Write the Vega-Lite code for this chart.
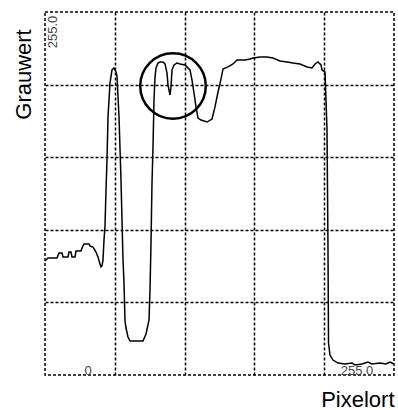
{
  "$schema": "https://vega.github.io/schema/vega-lite/v6.json",
  "width": 349,
  "height": 363,
  "autosize": {"type": "none"},
  "padding": {"left": 45, "top": 12, "right": 4, "bottom": 35},
  "background": "white",
  "config": {
    "font": "Liberation Sans",
    "view": {"stroke": "black", "strokeDash": [3, 2], "strokeWidth": 1.5},
    "axis": {"labels": false, "ticks": false, "domain": false, "grid": true, "gridColor": "black", "gridOpacity": 1, "gridWidth": 1.5, "gridDash": [3, 2], "titleFont": "Liberation Sans", "titleFontSize": 22, "titleFontWeight": "normal", "titleColor": "black"}
  },
  "datasets": {
    "curve": [
      {"pos": 0, "grey": 80.1}, {"pos": 3, "grey": 82.2}, {"pos": 12, "grey": 82.2}, {"pos": 14, "grey": 85.7},
      {"pos": 17, "grey": 85.7}, {"pos": 18, "grey": 82.9}, {"pos": 23, "grey": 82.9}, {"pos": 24, "grey": 86.4},
      {"pos": 26, "grey": 86.4}, {"pos": 27, "grey": 82.9}, {"pos": 30, "grey": 82.9}, {"pos": 31, "grey": 87.1},
      {"pos": 36, "grey": 87.1}, {"pos": 37, "grey": 89.2}, {"pos": 39, "grey": 92.0}, {"pos": 44, "grey": 92.0},
      {"pos": 45, "grey": 90.6}, {"pos": 48, "grey": 89.9}, {"pos": 51, "grey": 86.4}, {"pos": 53, "grey": 82.9},
      {"pos": 55, "grey": 78.0}, {"pos": 56, "grey": 75.9}, {"pos": 57, "grey": 76.6}, {"pos": 58, "grey": 80.8},
      {"pos": 59, "grey": 94.8}, {"pos": 60, "grey": 104.7}, {"pos": 61, "grey": 130.0}, {"pos": 62, "grey": 151.0},
      {"pos": 63, "grey": 181.2}, {"pos": 65, "grey": 205.1}, {"pos": 67, "grey": 214.3}, {"pos": 69, "grey": 215.7},
      {"pos": 71, "grey": 212.9}, {"pos": 72, "grey": 210.0}, {"pos": 74, "grey": 181.2}, {"pos": 76, "grey": 137.0},
      {"pos": 77, "grey": 108.9}, {"pos": 78, "grey": 80.8}, {"pos": 79, "grey": 64.6}, {"pos": 80, "grey": 37.9},
      {"pos": 81, "grey": 33.0}, {"pos": 83, "grey": 26.7}, {"pos": 85, "grey": 23.9}, {"pos": 98, "grey": 23.9},
      {"pos": 101, "grey": 28.8}, {"pos": 104, "grey": 38.6}, {"pos": 105, "grey": 59.7}, {"pos": 106, "grey": 92.7},
      {"pos": 107, "grey": 134.9}, {"pos": 108, "grey": 160.2}, {"pos": 109, "grey": 193.2}, {"pos": 110, "grey": 209.3},
      {"pos": 111, "grey": 215.7}, {"pos": 113, "grey": 219.2}, {"pos": 115, "grey": 219.9}, {"pos": 118, "grey": 219.9},
      {"pos": 120, "grey": 218.5}, {"pos": 122, "grey": 212.2}, {"pos": 123, "grey": 203.7}, {"pos": 125, "grey": 196.7},
      {"pos": 126, "grey": 202.3}, {"pos": 127, "grey": 214.3}, {"pos": 129, "grey": 217.8}, {"pos": 132, "grey": 219.2},
      {"pos": 135, "grey": 218.5}, {"pos": 140, "grey": 217.8}, {"pos": 145, "grey": 214.3}, {"pos": 147, "grey": 207.2},
      {"pos": 149, "grey": 198.1}, {"pos": 151, "grey": 188.3}, {"pos": 153, "grey": 180.5}, {"pos": 156, "grey": 179.1},
      {"pos": 162, "grey": 177.7}, {"pos": 167, "grey": 179.8}, {"pos": 170, "grey": 188.3}, {"pos": 173, "grey": 198.8},
      {"pos": 176, "grey": 207.9}, {"pos": 178, "grey": 215.0}, {"pos": 183, "grey": 216.4}, {"pos": 188, "grey": 218.5},
      {"pos": 192, "grey": 221.3}, {"pos": 200, "grey": 221.3}, {"pos": 205, "grey": 222.0}, {"pos": 208, "grey": 222.7},
      {"pos": 215, "grey": 223.4}, {"pos": 222, "grey": 223.4}, {"pos": 228, "grey": 222.7}, {"pos": 235, "grey": 220.6},
      {"pos": 242, "grey": 219.9}, {"pos": 248, "grey": 219.2}, {"pos": 255, "grey": 218.5}, {"pos": 262, "grey": 216.4},
      {"pos": 267, "grey": 215.7}, {"pos": 270, "grey": 218.5}, {"pos": 273, "grey": 219.9}, {"pos": 276, "grey": 217.8},
      {"pos": 277, "grey": 214.3}, {"pos": 280, "grey": 212.9}, {"pos": 281, "grey": 193.2}, {"pos": 282, "grey": 172.1},
      {"pos": 283, "grey": 87.8}, {"pos": 283.5, "grey": 22.5}, {"pos": 285, "grey": 14.0}, {"pos": 288, "grey": 10.5},
      {"pos": 293, "grey": 8.4}, {"pos": 300, "grey": 7.7}, {"pos": 307, "grey": 8.4}, {"pos": 310, "grey": 7.0},
      {"pos": 317, "grey": 7.7}, {"pos": 323, "grey": 9.1}, {"pos": 327, "grey": 7.7}, {"pos": 335, "grey": 8.4},
      {"pos": 341, "grey": 7.7}, {"pos": 345, "grey": 9.1}, {"pos": 349, "grey": 7.7}
    ]
  },
  "encoding": {
    "x": {"type": "quantitative", "scale": {"domain": [0, 349], "nice": false, "zero": false},
          "axis": {"title": "Pixelort", "values": [69.8, 139.6, 209.4, 279.2], "titleX": 349, "titleY": 31, "titleAlign": "right", "titleBaseline": "alphabetic", "titleAnchor": "end"}},
    "y": {"type": "quantitative", "scale": {"domain": [0, 255], "nice": false, "zero": false},
          "axis": {"title": "Grauwert", "values": [51, 102, 153, 204], "titleX": -22, "titleY": 62, "titleAngle": -90, "titleAlign": "center", "titleBaseline": "middle"}}
  },
  "layer": [
    {
      "data": {"values": [{"label": "255.0", "pos": 8, "grey": 241}]},
      "mark": {"type": "text", "angle": 270, "align": "center", "baseline": "middle", "fontSize": 13, "color": "#444", "font": "Liberation Sans"},
      "encoding": {"x": {"field": "pos"}, "y": {"field": "grey"}, "text": {"field": "label"}}
    },
    {
      "data": {"values": [{"label": "0", "pos": 43, "grey": 0}, {"label": "255.0", "pos": 312, "grey": 0}]},
      "mark": {"type": "text", "align": "center", "baseline": "alphabetic", "fontSize": 13, "color": "#444", "font": "Liberation Sans"},
      "encoding": {"x": {"field": "pos"}, "y": {"field": "grey"}, "text": {"field": "label"}}
    },
    {
      "data": {"name": "curve"},
      "mark": {"type": "line", "color": "black", "strokeWidth": 1.5},
      "encoding": {"x": {"field": "pos"}, "y": {"field": "grey"}}
    },
    {
      "data": {"values": [{"pos": 128, "grey": 203}]},
      "mark": {"type": "point", "shape": "circle", "filled": false, "size": 4300, "strokeWidth": 2.5, "color": "black", "opacity": 1},
      "encoding": {"x": {"field": "pos"}, "y": {"field": "grey"}}
    }
  ]
}
